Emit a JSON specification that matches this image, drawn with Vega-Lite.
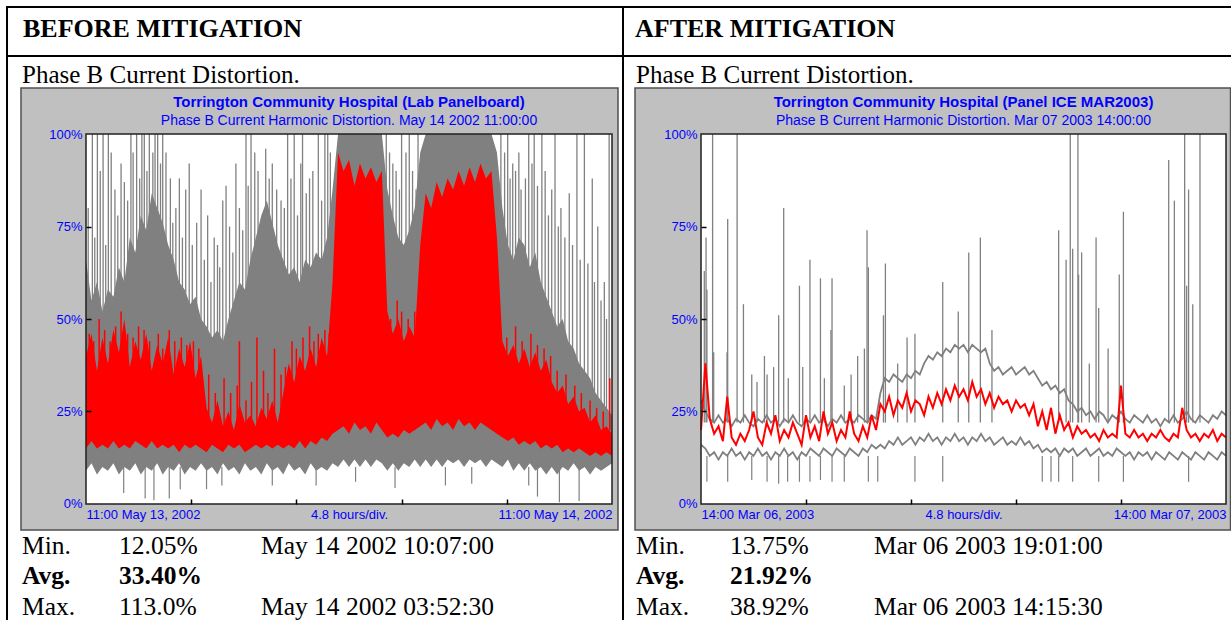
{
"$schema": "https://vega.github.io/schema/vega-lite/v6.json",
"background": "white",
"padding": {"left": 5, "top": 5, "right": 0, "bottom": 0},
"spacing": 0,
"bounds": "flush",
"config": {"view": {"stroke": null}, "axis": {"grid": false}},
"datasets": {
"leftBand": [
{"h":0,"ghi":66,"glo":9,"rlo":15,"rhi":40},{"h":0.25,"ghi":55,"glo":11,"rlo":17,"rhi":46},{"h":0.5,"ghi":60,"glo":8,"rlo":15,"rhi":36},{"h":0.75,"ghi":52,"glo":10,"rlo":16,"rhi":45},
{"h":1,"ghi":58,"glo":9,"rlo":15,"rhi":38},{"h":1.25,"ghi":56,"glo":11,"rlo":17,"rhi":47},{"h":1.5,"ghi":64,"glo":8,"rlo":15,"rhi":41},{"h":1.75,"ghi":60,"glo":10,"rlo":16,"rhi":50},
{"h":2,"ghi":72,"glo":9,"rlo":15,"rhi":37},{"h":2.25,"ghi":68,"glo":11,"rlo":17,"rhi":44},{"h":2.5,"ghi":78,"glo":8,"rlo":16,"rhi":39},{"h":2.75,"ghi":74,"glo":10,"rlo":15,"rhi":46},
{"h":3,"ghi":84,"glo":9,"rlo":17,"rhi":36},{"h":3.25,"ghi":80,"glo":11,"rlo":15,"rhi":43},{"h":3.5,"ghi":76,"glo":8,"rlo":16,"rhi":38},{"h":3.75,"ghi":70,"glo":10,"rlo":15,"rhi":45},
{"h":4,"ghi":66,"glo":9,"rlo":16,"rhi":35},{"h":4.25,"ghi":60,"glo":11,"rlo":14,"rhi":42},{"h":4.5,"ghi":58,"glo":8,"rlo":16,"rhi":37},{"h":4.75,"ghi":54,"glo":10,"rlo":15,"rhi":44},
{"h":5,"ghi":56,"glo":9,"rlo":16,"rhi":34},{"h":5.25,"ghi":50,"glo":11,"rlo":15,"rhi":40},{"h":5.5,"ghi":48,"glo":9,"rlo":14,"rhi":26},{"h":5.75,"ghi":45,"glo":10,"rlo":16,"rhi":22},
{"h":6,"ghi":47,"glo":8,"rlo":15,"rhi":28},{"h":6.25,"ghi":44,"glo":11,"rlo":14,"rhi":21},{"h":6.5,"ghi":50,"glo":9,"rlo":16,"rhi":25},{"h":6.75,"ghi":55,"glo":10,"rlo":15,"rhi":20},
{"h":7,"ghi":60,"glo":8,"rlo":16,"rhi":27},{"h":7.25,"ghi":58,"glo":11,"rlo":14,"rhi":22},{"h":7.5,"ghi":66,"glo":9,"rlo":15,"rhi":24},{"h":7.75,"ghi":72,"glo":10,"rlo":16,"rhi":21},
{"h":8,"ghi":78,"glo":8,"rlo":15,"rhi":26},{"h":8.25,"ghi":82,"glo":11,"rlo":16,"rhi":23},{"h":8.5,"ghi":76,"glo":9,"rlo":15,"rhi":28},{"h":8.75,"ghi":70,"glo":10,"rlo":16,"rhi":22},
{"h":9,"ghi":66,"glo":8,"rlo":15,"rhi":30},{"h":9.25,"ghi":62,"glo":11,"rlo":16,"rhi":38},{"h":9.5,"ghi":64,"glo":9,"rlo":15,"rhi":33},{"h":9.75,"ghi":60,"glo":10,"rlo":17,"rhi":40},
{"h":10,"ghi":66,"glo":8,"rlo":15,"rhi":36},{"h":10.25,"ghi":64,"glo":11,"rlo":17,"rhi":42},{"h":10.5,"ghi":68,"glo":9,"rlo":16,"rhi":37},{"h":10.75,"ghi":66,"glo":10,"rlo":18,"rhi":45},
{"h":11,"ghi":72,"glo":9,"rlo":17,"rhi":40},{"h":11.25,"ghi":85,"glo":11,"rlo":19,"rhi":60},{"h":11.5,"ghi":100,"glo":10,"rlo":20,"rhi":95},{"h":11.75,"ghi":100,"glo":12,"rlo":21,"rhi":90},
{"h":12,"ghi":100,"glo":10,"rlo":19,"rhi":93},{"h":12.25,"ghi":100,"glo":12,"rlo":22,"rhi":86},{"h":12.5,"ghi":100,"glo":10,"rlo":20,"rhi":92},{"h":12.75,"ghi":100,"glo":12,"rlo":21,"rhi":88},
{"h":13,"ghi":100,"glo":10,"rlo":19,"rhi":91},{"h":13.25,"ghi":100,"glo":12,"rlo":22,"rhi":87},{"h":13.5,"ghi":100,"glo":11,"rlo":20,"rhi":90},{"h":13.75,"ghi":85,"glo":9,"rlo":18,"rhi":52},
{"h":14,"ghi":78,"glo":11,"rlo":19,"rhi":46},{"h":14.25,"ghi":72,"glo":9,"rlo":18,"rhi":50},{"h":14.5,"ghi":70,"glo":11,"rlo":20,"rhi":44},{"h":14.75,"ghi":74,"glo":10,"rlo":19,"rhi":48},
{"h":15,"ghi":80,"glo":12,"rlo":20,"rhi":45},{"h":15.25,"ghi":95,"glo":10,"rlo":21,"rhi":70},{"h":15.5,"ghi":100,"glo":12,"rlo":22,"rhi":84},{"h":15.75,"ghi":100,"glo":10,"rlo":20,"rhi":80},
{"h":16,"ghi":100,"glo":12,"rlo":23,"rhi":87},{"h":16.25,"ghi":100,"glo":10,"rlo":21,"rhi":83},{"h":16.5,"ghi":100,"glo":12,"rlo":22,"rhi":88},{"h":16.75,"ghi":100,"glo":11,"rlo":20,"rhi":85},
{"h":17,"ghi":100,"glo":12,"rlo":23,"rhi":90},{"h":17.25,"ghi":100,"glo":10,"rlo":21,"rhi":86},{"h":17.5,"ghi":100,"glo":12,"rlo":22,"rhi":91},{"h":17.75,"ghi":100,"glo":11,"rlo":20,"rhi":87},
{"h":18,"ghi":100,"glo":12,"rlo":22,"rhi":92},{"h":18.25,"ghi":100,"glo":10,"rlo":21,"rhi":88},{"h":18.5,"ghi":100,"glo":12,"rlo":20,"rhi":90},{"h":18.75,"ghi":95,"glo":11,"rlo":19,"rhi":72},
{"h":19,"ghi":80,"glo":10,"rlo":18,"rhi":44},{"h":19.25,"ghi":70,"glo":12,"rlo":17,"rhi":40},{"h":19.5,"ghi":66,"glo":9,"rlo":18,"rhi":43},{"h":19.75,"ghi":72,"glo":11,"rlo":16,"rhi":38},
{"h":20,"ghi":70,"glo":9,"rlo":17,"rhi":42},{"h":20.25,"ghi":64,"glo":11,"rlo":16,"rhi":37},{"h":20.5,"ghi":68,"glo":9,"rlo":17,"rhi":41},{"h":20.75,"ghi":60,"glo":10,"rlo":15,"rhi":36},
{"h":21,"ghi":56,"glo":8,"rlo":16,"rhi":39},{"h":21.25,"ghi":52,"glo":10,"rlo":15,"rhi":33},{"h":21.5,"ghi":48,"glo":8,"rlo":16,"rhi":30},{"h":21.75,"ghi":50,"glo":10,"rlo":14,"rhi":32},
{"h":22,"ghi":44,"glo":9,"rlo":15,"rhi":27},{"h":22.25,"ghi":42,"glo":11,"rlo":14,"rhi":29},{"h":22.5,"ghi":38,"glo":9,"rlo":15,"rhi":25},{"h":22.75,"ghi":36,"glo":10,"rlo":14,"rhi":26},
{"h":23,"ghi":34,"glo":8,"rlo":13,"rhi":22},{"h":23.25,"ghi":30,"glo":10,"rlo":14,"rhi":24},{"h":23.5,"ghi":28,"glo":9,"rlo":13,"rhi":20},{"h":23.75,"ghi":26,"glo":10,"rlo":14,"rhi":21},
{"h":24,"ghi":24,"glo":11,"rlo":13,"rhi":19}
],
"leftSpikes": [
{"h":0.29,"v":100},{"h":0.52,"v":100},{"h":0.78,"v":100},{"h":1.02,"v":100},{"h":1.32,"v":85},{"h":1.75,"v":87},{"h":2.05,"v":100},{"h":2.31,"v":100},{"h":2.66,"v":100},{"h":2.89,"v":100},{"h":3.27,"v":100},{"h":3.5,"v":100},{"h":3.96,"v":76},{"h":4.26,"v":88},{"h":4.71,"v":92},{"h":5.25,"v":85},{"h":5.55,"v":78},{"h":6.0,"v":70},{"h":6.24,"v":82},{"h":6.39,"v":86},{"h":6.84,"v":92},{"h":7.3,"v":100},{"h":7.53,"v":100},{"h":8.06,"v":78},{"h":8.36,"v":88},{"h":8.9,"v":82},{"h":9.2,"v":100},{"h":9.5,"v":100},{"h":9.88,"v":100},{"h":10.2,"v":88},{"h":10.6,"v":100},{"h":10.9,"v":100},{"h":11.03,"v":100},{"h":13.7,"v":100},{"h":14.15,"v":90},{"h":14.4,"v":100},{"h":14.75,"v":100},{"h":15.06,"v":85},{"h":18.93,"v":100},{"h":19.24,"v":100},{"h":19.47,"v":92},{"h":19.85,"v":85},{"h":20.2,"v":100},{"h":20.45,"v":100},{"h":20.8,"v":100},{"h":21.4,"v":100},{"h":21.67,"v":80},{"h":22.05,"v":84},{"h":22.4,"v":100},{"h":22.74,"v":100},{"h":23.1,"v":88},{"h":23.35,"v":75},{"h":23.65,"v":60},{"h":23.87,"v":100},
{"h":0.1,"v":80},{"h":0.4,"v":72},{"h":0.65,"v":90},{"h":0.9,"v":70},{"h":1.15,"v":95},{"h":1.45,"v":78},{"h":1.6,"v":92},{"h":1.9,"v":82},{"h":2.15,"v":95},{"h":2.45,"v":88},{"h":2.55,"v":100},{"h":2.78,"v":90},{"h":3.05,"v":95},{"h":3.15,"v":100},{"h":3.4,"v":92},{"h":3.65,"v":95},{"h":3.85,"v":88},{"h":4.1,"v":80},{"h":4.4,"v":72},{"h":4.55,"v":85},{"h":4.85,"v":70},{"h":5.05,"v":76},{"h":5.4,"v":66},{"h":5.7,"v":60},{"h":5.85,"v":72},{"h":6.1,"v":64},{"h":6.55,"v":75},{"h":6.7,"v":68},{"h":7.0,"v":80},{"h":7.15,"v":74},{"h":7.4,"v":86},{"h":7.7,"v":95},{"h":7.85,"v":90},{"h":8.2,"v":96},{"h":8.5,"v":92},{"h":8.7,"v":85},{"h":9.05,"v":80},{"h":9.35,"v":88},{"h":9.65,"v":78},{"h":9.8,"v":92},{"h":10.05,"v":84},{"h":10.35,"v":90},{"h":10.75,"v":82},{"h":11.15,"v":95},
{"h":13.85,"v":95},{"h":14.0,"v":92},{"h":14.3,"v":85},{"h":14.6,"v":95},{"h":14.9,"v":90},{"h":15.15,"v":100},{"h":19.1,"v":95},{"h":19.35,"v":88},{"h":19.6,"v":90},{"h":19.75,"v":95},{"h":20.05,"v":88},{"h":20.35,"v":92},{"h":20.6,"v":86},{"h":20.95,"v":90},{"h":21.1,"v":78},{"h":21.25,"v":85},{"h":21.55,"v":75},{"h":21.85,"v":72},{"h":22.2,"v":70},{"h":22.55,"v":66},{"h":22.9,"v":65},{"h":23.2,"v":60},{"h":23.5,"v":55},{"h":23.75,"v":50}
],
"leftDips": [
{"h":1.72,"v":3},{"h":2.7,"v":1.5},{"h":3.1,"v":1},{"h":3.8,"v":1.5},{"h":4.3,"v":4},{"h":5.5,"v":4},{"h":6.2,"v":5},{"h":8.5,"v":5},{"h":10.5,"v":5},{"h":12.3,"v":6},{"h":14.1,"v":4.3},{"h":16.4,"v":5},{"h":17.6,"v":5.5},{"h":20.2,"v":5},{"h":20.6,"v":2},{"h":21.6,"v":0.5},{"h":22.5,"v":0.8}
],
"leftRedSpikes": [
{"h":0.6,"v":50},{"h":1.6,"v":52},{"h":2.4,"v":48},{"h":3.3,"v":46},{"h":7.0,"v":44},{"h":7.8,"v":45},{"h":8.6,"v":42},{"h":10.2,"v":48},{"h":14.2,"v":55},{"h":19.6,"v":48},{"h":20.3,"v":46},{"h":23.9,"v":34},
{"h":0.15,"v":46},{"h":0.35,"v":44},{"h":0.85,"v":47},{"h":1.1,"v":44},{"h":1.35,"v":48},{"h":1.9,"v":46},{"h":2.15,"v":45},{"h":2.65,"v":47},{"h":2.9,"v":44},{"h":3.5,"v":42},{"h":3.8,"v":47},{"h":4.05,"v":44},{"h":4.35,"v":45},{"h":4.6,"v":43},{"h":4.9,"v":44},{"h":5.15,"v":42},{"h":5.6,"v":35},{"h":5.9,"v":30},{"h":6.3,"v":34},{"h":6.6,"v":30},{"h":6.9,"v":32},{"h":7.3,"v":28},{"h":7.55,"v":33},{"h":8.1,"v":36},{"h":8.3,"v":30},{"h":8.9,"v":35},{"h":9.1,"v":37},{"h":9.4,"v":44},{"h":9.6,"v":42},{"h":9.9,"v":45},{"h":10.4,"v":44},{"h":10.6,"v":46},{"h":10.9,"v":47},{"h":11.1,"v":46},{"h":13.9,"v":50},{"h":14.4,"v":52},{"h":14.7,"v":50},{"h":15.0,"v":52},{"h":19.2,"v":45},{"h":19.9,"v":44},{"h":20.6,"v":43},{"h":20.9,"v":42},{"h":21.2,"v":40},{"h":21.5,"v":36},{"h":21.9,"v":35},{"h":22.3,"v":32},{"h":22.6,"v":30},{"h":23.0,"v":28},{"h":23.3,"v":26},{"h":23.6,"v":25}
],
"rightLines": [
{"h":0,"hi":28,"lo":16,"avg":20},{"h":0.2,"hi":25,"lo":15,"avg":38},{"h":0.4,"hi":23,"lo":13,"avg":23},{"h":0.6,"hi":22,"lo":14,"avg":19},{"h":0.8,"hi":24,"lo":12,"avg":21},
{"h":1,"hi":22,"lo":14,"avg":17},{"h":1.2,"hi":23,"lo":13,"avg":29},{"h":1.4,"hi":21,"lo":15,"avg":18},{"h":1.6,"hi":23,"lo":13,"avg":16},{"h":1.8,"hi":22,"lo":14,"avg":19},
{"h":2,"hi":24,"lo":12,"avg":17},{"h":2.2,"hi":22,"lo":14,"avg":20},{"h":2.4,"hi":21,"lo":13,"avg":25},{"h":2.6,"hi":23,"lo":15,"avg":18},{"h":2.8,"hi":22,"lo":13,"avg":16},
{"h":3,"hi":24,"lo":14,"avg":22},{"h":3.2,"hi":22,"lo":12,"avg":19},{"h":3.4,"hi":23,"lo":14,"avg":24},{"h":3.6,"hi":21,"lo":13,"avg":17},{"h":3.8,"hi":23,"lo":15,"avg":20},
{"h":4,"hi":22,"lo":13,"avg":18},{"h":4.2,"hi":24,"lo":14,"avg":22},{"h":4.4,"hi":22,"lo":12,"avg":19},{"h":4.6,"hi":21,"lo":14,"avg":16},{"h":4.8,"hi":23,"lo":13,"avg":24},
{"h":5,"hi":22,"lo":15,"avg":18},{"h":5.2,"hi":24,"lo":14,"avg":21},{"h":5.4,"hi":22,"lo":13,"avg":17},{"h":5.6,"hi":23,"lo":15,"avg":25},{"h":5.8,"hi":21,"lo":14,"avg":19},
{"h":6,"hi":23,"lo":13,"avg":22},{"h":6.2,"hi":22,"lo":15,"avg":17},{"h":6.4,"hi":24,"lo":14,"avg":20},{"h":6.6,"hi":22,"lo":13,"avg":18},{"h":6.8,"hi":23,"lo":15,"avg":25},
{"h":7,"hi":22,"lo":14,"avg":19},{"h":7.2,"hi":24,"lo":13,"avg":17},{"h":7.4,"hi":23,"lo":15,"avg":21},{"h":7.6,"hi":22,"lo":14,"avg":18},{"h":7.8,"hi":24,"lo":16,"avg":24},
{"h":8,"hi":23,"lo":15,"avg":20},{"h":8.2,"hi":30,"lo":16,"avg":27},{"h":8.4,"hi":34,"lo":15,"avg":25},{"h":8.6,"hi":33,"lo":17,"avg":29},{"h":8.8,"hi":35,"lo":16,"avg":24},
{"h":9,"hi":34,"lo":18,"avg":28},{"h":9.2,"hi":33,"lo":16,"avg":26},{"h":9.4,"hi":35,"lo":17,"avg":30},{"h":9.6,"hi":34,"lo":18,"avg":25},{"h":9.8,"hi":36,"lo":16,"avg":28},
{"h":10,"hi":35,"lo":18,"avg":27},{"h":10.2,"hi":38,"lo":17,"avg":24},{"h":10.4,"hi":40,"lo":19,"avg":29},{"h":10.6,"hi":39,"lo":17,"avg":26},{"h":10.8,"hi":41,"lo":18,"avg":30},
{"h":11,"hi":40,"lo":16,"avg":27},{"h":11.2,"hi":42,"lo":18,"avg":31},{"h":11.4,"hi":41,"lo":17,"avg":28},{"h":11.6,"hi":43,"lo":19,"avg":32},{"h":11.8,"hi":42,"lo":17,"avg":29},
{"h":12,"hi":43,"lo":18,"avg":31},{"h":12.2,"hi":41,"lo":16,"avg":28},{"h":12.4,"hi":43,"lo":18,"avg":33},{"h":12.6,"hi":42,"lo":17,"avg":29},{"h":12.8,"hi":41,"lo":19,"avg":31},
{"h":13,"hi":42,"lo":17,"avg":27},{"h":13.2,"hi":38,"lo":18,"avg":30},{"h":13.4,"hi":36,"lo":16,"avg":26},{"h":13.6,"hi":37,"lo":17,"avg":29},{"h":13.8,"hi":35,"lo":18,"avg":27},
{"h":14,"hi":36,"lo":16,"avg":28},{"h":14.2,"hi":37,"lo":17,"avg":25},{"h":14.4,"hi":35,"lo":16,"avg":28},{"h":14.6,"hi":36,"lo":18,"avg":26},{"h":14.8,"hi":37,"lo":16,"avg":27},
{"h":15,"hi":35,"lo":17,"avg":24},{"h":15.2,"hi":36,"lo":15,"avg":27},{"h":15.4,"hi":34,"lo":16,"avg":21},{"h":15.6,"hi":32,"lo":14,"avg":25},{"h":15.8,"hi":33,"lo":15,"avg":20},
{"h":16,"hi":31,"lo":14,"avg":26},{"h":16.2,"hi":32,"lo":15,"avg":19},{"h":16.4,"hi":30,"lo":13,"avg":24},{"h":16.6,"hi":31,"lo":15,"avg":20},{"h":16.8,"hi":28,"lo":14,"avg":22},
{"h":17,"hi":27,"lo":15,"avg":18},{"h":17.2,"hi":25,"lo":13,"avg":21},{"h":17.4,"hi":26,"lo":14,"avg":19},{"h":17.6,"hi":24,"lo":15,"avg":20},{"h":17.8,"hi":25,"lo":13,"avg":18},
{"h":18,"hi":23,"lo":14,"avg":19},{"h":18.2,"hi":25,"lo":15,"avg":17},{"h":18.4,"hi":24,"lo":13,"avg":20},{"h":18.6,"hi":22,"lo":14,"avg":18},{"h":18.8,"hi":24,"lo":13,"avg":19},
{"h":19,"hi":23,"lo":15,"avg":18},{"h":19.2,"hi":25,"lo":14,"avg":32},{"h":19.4,"hi":23,"lo":13,"avg":19},{"h":19.6,"hi":22,"lo":14,"avg":18},{"h":19.8,"hi":24,"lo":12,"avg":20},
{"h":20,"hi":23,"lo":14,"avg":18},{"h":20.2,"hi":22,"lo":13,"avg":19},{"h":20.4,"hi":24,"lo":14,"avg":17},{"h":20.6,"hi":22,"lo":12,"avg":19},{"h":20.8,"hi":23,"lo":14,"avg":18},
{"h":21,"hi":21,"lo":13,"avg":20},{"h":21.2,"hi":23,"lo":12,"avg":18},{"h":21.4,"hi":22,"lo":14,"avg":17},{"h":21.6,"hi":24,"lo":13,"avg":19},{"h":21.8,"hi":22,"lo":12,"avg":18},
{"h":22,"hi":23,"lo":14,"avg":26},{"h":22.2,"hi":25,"lo":13,"avg":20},{"h":22.4,"hi":23,"lo":12,"avg":18},{"h":22.6,"hi":22,"lo":14,"avg":19},{"h":22.8,"hi":24,"lo":13,"avg":17},
{"h":23,"hi":23,"lo":12,"avg":19},{"h":23.2,"hi":22,"lo":14,"avg":18},{"h":23.4,"hi":24,"lo":13,"avg":20},{"h":23.6,"hi":23,"lo":12,"avg":17},{"h":23.8,"hi":25,"lo":14,"avg":19},
{"h":24,"hi":24,"lo":13,"avg":18}
],
"rightSpikes": [
{"h":0.15,"v":63},{"h":0.23,"v":72},{"h":0.27,"v":58},{"h":0.53,"v":100},{"h":0.58,"v":41},{"h":1.19,"v":41},{"h":1.22,"v":77},{"h":1.65,"v":100},{"h":1.94,"v":54},{"h":2.32,"v":35},{"h":2.56,"v":33},{"h":2.9,"v":40},{"h":3.02,"v":35},{"h":3.32,"v":37},{"h":3.55,"v":51},{"h":3.78,"v":80},{"h":3.99,"v":34},{"h":4.5,"v":59},{"h":4.65,"v":37},{"h":4.98,"v":66},{"h":5.46,"v":61},{"h":5.64,"v":34},{"h":5.94,"v":47},{"h":5.99,"v":61},{"h":6.55,"v":32},{"h":6.86,"v":35},{"h":7.16,"v":40},{"h":7.47,"v":42},{"h":7.59,"v":74},{"h":7.65,"v":64},{"h":8.34,"v":51},{"h":8.43,"v":65},{"h":8.99,"v":38},{"h":9.42,"v":45},{"h":9.78,"v":46},{"h":11.05,"v":60},{"h":11.76,"v":52},{"h":12.24,"v":68},{"h":12.77,"v":72},{"h":13.3,"v":47},{"h":16.35,"v":74},{"h":16.69,"v":66},{"h":16.88,"v":100},{"h":16.99,"v":69},{"h":17.23,"v":100},{"h":17.26,"v":62},{"h":17.4,"v":68},{"h":17.75,"v":38},{"h":18.06,"v":72},{"h":18.18,"v":53},{"h":18.61,"v":42},{"h":19.12,"v":62},{"h":19.31,"v":79},{"h":21.38,"v":93},{"h":21.64,"v":82},{"h":22.11,"v":100},{"h":22.2,"v":59},{"h":22.29,"v":85},{"h":22.48,"v":54},{"h":22.81,"v":100}
],
"rightDips": [
{"h":0.27,"v":6},{"h":1.22,"v":6},{"h":2.32,"v":6.5},{"h":3.02,"v":6},{"h":3.55,"v":5.5},{"h":3.96,"v":6},{"h":4.5,"v":6},{"h":4.98,"v":6},{"h":5.46,"v":6.5},{"h":5.99,"v":6},{"h":6.55,"v":6},{"h":7.65,"v":6},{"h":8.08,"v":6},{"h":9.78,"v":6},{"h":11.05,"v":6},{"h":15.6,"v":6},{"h":16.0,"v":6},{"h":16.35,"v":6},{"h":16.99,"v":6},{"h":18.18,"v":6},{"h":19.31,"v":6},{"h":22.29,"v":6}
],
"leftStats": [
{"stat":"Min.","val":"12.05%","when":"May 14 2002 10:07:00","r":1},
{"stat":"Avg.","val":"33.40%","when":"","r":2},
{"stat":"Max.","val":"113.0%","when":"May 14 2002 03:52:30","r":3}
],
"rightStats": [
{"stat":"Min.","val":"13.75%","when":"Mar 06 2003 19:01:00","r":1},
{"stat":"Avg.","val":"21.92%","when":"","r":2},
{"stat":"Max.","val":"38.92%","when":"Mar 06 2003 14:15:30","r":3}
]
},
"hconcat": [
{
"width": 617, "height": 615,
"layer": [
{
"layer": [
{"data": {"values": [{}]}, "mark": {"type": "rect", "fill": "#c0c0c0", "stroke": "#505050", "strokeWidth": 1.5},
 "encoding": {"x": {"datum": -2.966, "type": "quantitative", "scale": {"domain": [-3.65, 24.502], "nice": false, "zero": false}, "axis": null}, "x2": {"datum": 24.274},
  "y": {"datum": -7.03, "type": "quantitative", "scale": {"domain": [-31.622, 134.595], "nice": false, "zero": false}, "axis": null}, "y2": {"datum": 112.43}}},
{"data": {"values": [{}]}, "mark": {"type": "rect", "fill": "white"},
 "encoding": {"x": {"datum": 0, "type": "quantitative", "scale": {"domain": [-3.65, 24.502], "nice": false, "zero": false},
   "axis": {"orient": "bottom", "offset": -117, "values": [0, 12, 24], "labelExpr": "datum.value == 0 ? '11:00 May 13, 2002' : (datum.value == 12 ? '4.8 hours/div.' : '11:00 May 14, 2002')", "labelAlign": {"condition": [{"test": "datum.value < 6", "value": "left"}, {"test": "datum.value > 18", "value": "right"}], "value": "center"}, "labelColor": "#0000ff", "labelFont": "Liberation Sans", "labelFontSize": 13, "labelPadding": 4, "labelOverlap": false, "ticks": false, "tickSize": 0, "domain": false, "grid": false, "title": null, "zindex": 1}},
  "x2": {"datum": 24},
  "y": {"datum": 0, "type": "quantitative", "scale": {"domain": [-31.622, 134.595], "nice": false, "zero": false},
   "axis": {"orient": "left", "offset": -80, "values": [0, 25, 50, 75, 100], "labelExpr": "datum.value + '%'", "labelColor": "#0000ff", "labelFont": "Liberation Sans", "labelFontSize": 13, "labelPadding": 4, "labelOverlap": false, "ticks": false, "tickSize": 0, "domain": false, "grid": false, "title": null, "zindex": 1}},
  "y2": {"datum": 100}}},
{"data": {"name": "leftBand"}, "mark": {"type": "area", "color": "#808080", "orient": "vertical"},
 "encoding": {"x": {"field": "h", "type": "quantitative", "scale": {"domain": [-3.65, 24.502], "nice": false, "zero": false}, "axis": null},
  "y": {"field": "glo", "type": "quantitative", "scale": {"domain": [-31.622, 134.595], "nice": false, "zero": false}, "axis": null}, "y2": {"field": "ghi"}}},
{"data": {"name": "leftSpikes"}, "mark": {"type": "rule", "color": "#808080", "strokeWidth": 1.3},
 "encoding": {"x": {"field": "h", "type": "quantitative", "scale": {"domain": [-3.65, 24.502], "nice": false, "zero": false}, "axis": null},
  "y": {"field": "v", "type": "quantitative", "scale": {"domain": [-31.622, 134.595], "nice": false, "zero": false}, "axis": null}, "y2": {"datum": 20}}},
{"data": {"name": "leftDips"}, "mark": {"type": "rule", "color": "#808080", "strokeWidth": 1.2},
 "encoding": {"x": {"field": "h", "type": "quantitative", "scale": {"domain": [-3.65, 24.502], "nice": false, "zero": false}, "axis": null},
  "y": {"field": "v", "type": "quantitative", "scale": {"domain": [-31.622, 134.595], "nice": false, "zero": false}, "axis": null}, "y2": {"datum": 10}}},
{"data": {"name": "leftBand"}, "mark": {"type": "area", "color": "#ff0000", "orient": "vertical"},
 "encoding": {"x": {"field": "h", "type": "quantitative", "scale": {"domain": [-3.65, 24.502], "nice": false, "zero": false}, "axis": null},
  "y": {"field": "rlo", "type": "quantitative", "scale": {"domain": [-31.622, 134.595], "nice": false, "zero": false}, "axis": null}, "y2": {"field": "rhi"}}},
{"data": {"name": "leftRedSpikes"}, "mark": {"type": "rule", "color": "#ff0000", "strokeWidth": 1.5},
 "encoding": {"x": {"field": "h", "type": "quantitative", "scale": {"domain": [-3.65, 24.502], "nice": false, "zero": false}, "axis": null},
  "y": {"field": "v", "type": "quantitative", "scale": {"domain": [-31.622, 134.595], "nice": false, "zero": false}, "axis": null}, "y2": {"datum": 20}}},
{"data": {"values": [{}]}, "mark": {"type": "rect", "fillOpacity": 0, "stroke": "#202020", "strokeWidth": 1.5},
 "encoding": {"x": {"datum": 0, "type": "quantitative", "scale": {"domain": [-3.65, 24.502], "nice": false, "zero": false},
   "axis": {"orient": "top", "offset": -498, "values": [4.8, 9.6, 14.4, 19.2], "labels": false, "domain": false, "ticks": true, "tickSize": 5, "tickColor": "#000000", "tickWidth": 1.5, "grid": false, "title": null, "zindex": 1}},
  "x2": {"datum": 24},
  "y": {"datum": 0, "type": "quantitative", "scale": {"domain": [-31.622, 134.595], "nice": false, "zero": false},
   "axis": {"orient": "right", "offset": -537, "values": [25, 50, 75], "labels": false, "domain": false, "ticks": true, "tickSize": 5, "tickColor": "#000000", "tickWidth": 1.5, "grid": false, "title": null, "zindex": 1}},
  "y2": {"datum": 100}}},
{"data": {"values": [{}]}, "mark": {"type": "text", "text": "Torrington Community Hospital (Lab Panelboard)", "font": "Liberation Sans", "fontWeight": "bold", "fontSize": 15, "color": "#0000ff", "align": "center", "baseline": "alphabetic"},
 "encoding": {"x": {"datum": 12, "type": "quantitative", "scale": {"domain": [-3.65, 24.502], "nice": false, "zero": false}, "axis": null},
  "y": {"datum": 107.3, "type": "quantitative", "scale": {"domain": [-31.622, 134.595], "nice": false, "zero": false}, "axis": null}}},
{"data": {"values": [{}]}, "mark": {"type": "text", "text": "Phase B Current Harmonic Distortion. May 14 2002 11:00:00", "font": "Liberation Sans", "fontSize": 14, "color": "#0000ff", "align": "center", "baseline": "alphabetic"},
 "encoding": {"x": {"datum": 12, "type": "quantitative", "scale": {"domain": [-3.65, 24.502], "nice": false, "zero": false}, "axis": null},
  "y": {"datum": 102.43, "type": "quantitative", "scale": {"domain": [-31.622, 134.595], "nice": false, "zero": false}, "axis": null}}},
{"data": {"values": [{}]}, "mark": {"type": "text", "text": "BEFORE MITIGATION", "font": "Liberation Serif", "fontWeight": "bold", "fontSize": 26, "color": "black", "align": "left", "baseline": "alphabetic"},
 "encoding": {"x": {"datum": -2.875, "type": "quantitative", "scale": {"domain": [-3.65, 24.502], "nice": false, "zero": false}, "axis": null},
  "y": {"datum": 126.22, "type": "quantitative", "scale": {"domain": [-31.622, 134.595], "nice": false, "zero": false}, "axis": null}}},
{"data": {"values": [{}]}, "mark": {"type": "text", "text": "Phase B Current Distortion.", "font": "Liberation Serif", "fontSize": 25, "color": "black", "align": "left", "baseline": "alphabetic"},
 "encoding": {"x": {"datum": -2.92, "type": "quantitative", "scale": {"domain": [-3.65, 24.502], "nice": false, "zero": false}, "axis": null},
  "y": {"datum": 113.78, "type": "quantitative", "scale": {"domain": [-31.622, 134.595], "nice": false, "zero": false}, "axis": null}}},
{"data": {"values": [{}]}, "mark": {"type": "rule", "color": "black", "strokeWidth": 2},
 "encoding": {"y": {"datum": 134.325, "type": "quantitative", "scale": {"domain": [-31.622, 134.595], "nice": false, "zero": false}, "axis": null}}},
{"data": {"values": [{}]}, "mark": {"type": "rule", "color": "black", "strokeWidth": 2},
 "encoding": {"y": {"datum": 121.08, "type": "quantitative", "scale": {"domain": [-31.622, 134.595], "nice": false, "zero": false}, "axis": null}}},
{"data": {"values": [{}]}, "mark": {"type": "rule", "color": "black", "strokeWidth": 2},
 "encoding": {"x": {"datum": -3.604, "type": "quantitative", "scale": {"domain": [-3.65, 24.502], "nice": false, "zero": false}, "axis": null}}},
{"data": {"values": [{}]}, "mark": {"type": "rule", "color": "black", "strokeWidth": 2},
 "encoding": {"x": {"datum": 24.502, "type": "quantitative", "scale": {"domain": [-3.65, 24.502], "nice": false, "zero": false}, "axis": null}}}
],
"resolve": {"axis": {"x": "independent", "y": "independent"}}
},
{
"data": {"name": "leftStats"},
"layer": [
{"mark": {"type": "text", "font": "Liberation Serif", "fontSize": 25.5, "color": "black", "align": "left", "baseline": "alphabetic", "fontWeight": {"expr": "datum.stat == 'Avg.' ? 'bold' : 'normal'"}},
 "encoding": {"x": {"datum": -2.92, "type": "quantitative", "scale": {"domain": [-3.65, 24.502], "nice": false, "zero": false}, "axis": null},
  "y": {"field": "r", "type": "quantitative", "scale": {"domain": [-16.967, 3.197], "reverse": true, "nice": false, "zero": false}, "axis": null}, "text": {"field": "stat"}}},
{"mark": {"type": "text", "font": "Liberation Serif", "fontSize": 25.5, "color": "black", "align": "left", "baseline": "alphabetic", "fontWeight": {"expr": "datum.stat == 'Avg.' ? 'bold' : 'normal'"}},
 "encoding": {"x": {"datum": 1.506, "type": "quantitative", "scale": {"domain": [-3.65, 24.502], "nice": false, "zero": false}, "axis": null},
  "y": {"field": "r", "type": "quantitative", "scale": {"domain": [-16.967, 3.197], "reverse": true, "nice": false, "zero": false}, "axis": null}, "text": {"field": "val"}}},
{"mark": {"type": "text", "font": "Liberation Serif", "fontSize": 25.5, "color": "black", "align": "left", "baseline": "alphabetic"},
 "encoding": {"x": {"datum": 7.985, "type": "quantitative", "scale": {"domain": [-3.65, 24.502], "nice": false, "zero": false}, "axis": null},
  "y": {"field": "r", "type": "quantitative", "scale": {"domain": [-16.967, 3.197], "reverse": true, "nice": false, "zero": false}, "axis": null}, "text": {"field": "when"}}}
]
}
],
"resolve": {"scale": {"y": "independent"}, "axis": {"x": "independent", "y": "independent"}}
},
{
"width": 609, "height": 615,
"layer": [
{
"layer": [
{"data": {"values": [{}]}, "mark": {"type": "rect", "fill": "#c0c0c0", "stroke": "#505050", "strokeWidth": 1.5},
 "encoding": {"x": {"datum": -3.017, "type": "quantitative", "scale": {"domain": [-3.566, 24.274], "nice": false, "zero": false}, "axis": null}, "x2": {"datum": 24.206},
  "y": {"datum": -7.03, "type": "quantitative", "scale": {"domain": [-31.622, 134.595], "nice": false, "zero": false}, "axis": null}, "y2": {"datum": 112.43}}},
{"data": {"values": [{}]}, "mark": {"type": "rect", "fill": "white"},
 "encoding": {"x": {"datum": 0, "type": "quantitative", "scale": {"domain": [-3.566, 24.274], "nice": false, "zero": false},
   "axis": {"orient": "bottom", "offset": -117, "values": [0, 12, 24], "labelExpr": "datum.value == 0 ? '14:00 Mar 06, 2003' : (datum.value == 12 ? '4.8 hours/div.' : '14:00 Mar 07, 2003')", "labelAlign": {"condition": [{"test": "datum.value < 6", "value": "left"}, {"test": "datum.value > 18", "value": "right"}], "value": "center"}, "labelColor": "#0000ff", "labelFont": "Liberation Sans", "labelFontSize": 13, "labelPadding": 4, "labelOverlap": false, "ticks": false, "tickSize": 0, "domain": false, "grid": false, "title": null, "zindex": 1}},
  "x2": {"datum": 24},
  "y": {"datum": 0, "type": "quantitative", "scale": {"domain": [-31.622, 134.595], "nice": false, "zero": false},
   "axis": {"orient": "left", "offset": -78, "values": [0, 25, 50, 75, 100], "labelExpr": "datum.value + '%'", "labelColor": "#0000ff", "labelFont": "Liberation Sans", "labelFontSize": 13, "labelPadding": 4, "labelOverlap": false, "ticks": false, "tickSize": 0, "domain": false, "grid": false, "title": null, "zindex": 1}},
  "y2": {"datum": 100}}},
{"data": {"name": "rightSpikes"}, "mark": {"type": "rule", "color": "#808080", "strokeWidth": 1.3},
 "encoding": {"x": {"field": "h", "type": "quantitative", "scale": {"domain": [-3.566, 24.274], "nice": false, "zero": false}, "axis": null},
  "y": {"field": "v", "type": "quantitative", "scale": {"domain": [-31.622, 134.595], "nice": false, "zero": false}, "axis": null}, "y2": {"datum": 22}}},
{"data": {"name": "rightDips"}, "mark": {"type": "rule", "color": "#808080", "strokeWidth": 1.2},
 "encoding": {"x": {"field": "h", "type": "quantitative", "scale": {"domain": [-3.566, 24.274], "nice": false, "zero": false}, "axis": null},
  "y": {"field": "v", "type": "quantitative", "scale": {"domain": [-31.622, 134.595], "nice": false, "zero": false}, "axis": null}, "y2": {"datum": 13}}},
{"data": {"name": "rightLines"}, "mark": {"type": "line", "color": "#808080", "strokeWidth": 1.8},
 "encoding": {"x": {"field": "h", "type": "quantitative", "scale": {"domain": [-3.566, 24.274], "nice": false, "zero": false}, "axis": null},
  "y": {"field": "hi", "type": "quantitative", "scale": {"domain": [-31.622, 134.595], "nice": false, "zero": false}, "axis": null}}},
{"data": {"name": "rightLines"}, "mark": {"type": "line", "color": "#808080", "strokeWidth": 1.8},
 "encoding": {"x": {"field": "h", "type": "quantitative", "scale": {"domain": [-3.566, 24.274], "nice": false, "zero": false}, "axis": null},
  "y": {"field": "lo", "type": "quantitative", "scale": {"domain": [-31.622, 134.595], "nice": false, "zero": false}, "axis": null}}},
{"data": {"name": "rightLines"}, "mark": {"type": "line", "color": "#ff0000", "strokeWidth": 2},
 "encoding": {"x": {"field": "h", "type": "quantitative", "scale": {"domain": [-3.566, 24.274], "nice": false, "zero": false}, "axis": null},
  "y": {"field": "avg", "type": "quantitative", "scale": {"domain": [-31.622, 134.595], "nice": false, "zero": false}, "axis": null}}},
{"data": {"values": [{}]}, "mark": {"type": "rect", "fillOpacity": 0, "stroke": "#202020", "strokeWidth": 1.5},
 "encoding": {"x": {"datum": 0, "type": "quantitative", "scale": {"domain": [-3.566, 24.274], "nice": false, "zero": false},
   "axis": {"orient": "top", "offset": -498, "values": [4.8, 9.6, 14.4, 19.2], "labels": false, "domain": false, "ticks": true, "tickSize": 5, "tickColor": "#000000", "tickWidth": 1.5, "grid": false, "title": null, "zindex": 1}},
  "x2": {"datum": 24},
  "y": {"datum": 0, "type": "quantitative", "scale": {"domain": [-31.622, 134.595], "nice": false, "zero": false},
   "axis": {"orient": "right", "offset": -531, "values": [25, 50, 75], "labels": false, "domain": false, "ticks": true, "tickSize": 5, "tickColor": "#000000", "tickWidth": 1.5, "grid": false, "title": null, "zindex": 1}},
  "y2": {"datum": 100}}},
{"data": {"values": [{}]}, "mark": {"type": "text", "text": "Torrington Community Hospital (Panel ICE MAR2003)", "font": "Liberation Sans", "fontWeight": "bold", "fontSize": 15, "color": "#0000ff", "align": "center", "baseline": "alphabetic"},
 "encoding": {"x": {"datum": 12, "type": "quantitative", "scale": {"domain": [-3.566, 24.274], "nice": false, "zero": false}, "axis": null},
  "y": {"datum": 107.3, "type": "quantitative", "scale": {"domain": [-31.622, 134.595], "nice": false, "zero": false}, "axis": null}}},
{"data": {"values": [{}]}, "mark": {"type": "text", "text": "Phase B Current Harmonic Distortion. Mar 07 2003 14:00:00", "font": "Liberation Sans", "fontSize": 14, "color": "#0000ff", "align": "center", "baseline": "alphabetic"},
 "encoding": {"x": {"datum": 12, "type": "quantitative", "scale": {"domain": [-3.566, 24.274], "nice": false, "zero": false}, "axis": null},
  "y": {"datum": 102.43, "type": "quantitative", "scale": {"domain": [-31.622, 134.595], "nice": false, "zero": false}, "axis": null}}},
{"data": {"values": [{}]}, "mark": {"type": "text", "text": "AFTER MITIGATION", "font": "Liberation Serif", "fontWeight": "bold", "fontSize": 26, "color": "black", "align": "left", "baseline": "alphabetic"},
 "encoding": {"x": {"datum": -3.017, "type": "quantitative", "scale": {"domain": [-3.566, 24.274], "nice": false, "zero": false}, "axis": null},
  "y": {"datum": 126.22, "type": "quantitative", "scale": {"domain": [-31.622, 134.595], "nice": false, "zero": false}, "axis": null}}},
{"data": {"values": [{}]}, "mark": {"type": "text", "text": "Phase B Current Distortion.", "font": "Liberation Serif", "fontSize": 25, "color": "black", "align": "left", "baseline": "alphabetic"},
 "encoding": {"x": {"datum": -2.971, "type": "quantitative", "scale": {"domain": [-3.566, 24.274], "nice": false, "zero": false}, "axis": null},
  "y": {"datum": 113.78, "type": "quantitative", "scale": {"domain": [-31.622, 134.595], "nice": false, "zero": false}, "axis": null}}},
{"data": {"values": [{}]}, "mark": {"type": "rule", "color": "black", "strokeWidth": 2},
 "encoding": {"y": {"datum": 134.325, "type": "quantitative", "scale": {"domain": [-31.622, 134.595], "nice": false, "zero": false}, "axis": null}}},
{"data": {"values": [{}]}, "mark": {"type": "rule", "color": "black", "strokeWidth": 2},
 "encoding": {"y": {"datum": 121.08, "type": "quantitative", "scale": {"domain": [-31.622, 134.595], "nice": false, "zero": false}, "axis": null}}}
],
"resolve": {"axis": {"x": "independent", "y": "independent"}}
},
{
"data": {"name": "rightStats"},
"layer": [
{"mark": {"type": "text", "font": "Liberation Serif", "fontSize": 25.5, "color": "black", "align": "left", "baseline": "alphabetic", "fontWeight": {"expr": "datum.stat == 'Avg.' ? 'bold' : 'normal'"}},
 "encoding": {"x": {"datum": -2.971, "type": "quantitative", "scale": {"domain": [-3.566, 24.274], "nice": false, "zero": false}, "axis": null},
  "y": {"field": "r", "type": "quantitative", "scale": {"domain": [-16.967, 3.197], "reverse": true, "nice": false, "zero": false}, "axis": null}, "text": {"field": "stat"}}},
{"mark": {"type": "text", "font": "Liberation Serif", "fontSize": 25.5, "color": "black", "align": "left", "baseline": "alphabetic", "fontWeight": {"expr": "datum.stat == 'Avg.' ? 'bold' : 'normal'"}},
 "encoding": {"x": {"datum": 1.326, "type": "quantitative", "scale": {"domain": [-3.566, 24.274], "nice": false, "zero": false}, "axis": null},
  "y": {"field": "r", "type": "quantitative", "scale": {"domain": [-16.967, 3.197], "reverse": true, "nice": false, "zero": false}, "axis": null}, "text": {"field": "val"}}},
{"mark": {"type": "text", "font": "Liberation Serif", "fontSize": 25.5, "color": "black", "align": "left", "baseline": "alphabetic"},
 "encoding": {"x": {"datum": 7.909, "type": "quantitative", "scale": {"domain": [-3.566, 24.274], "nice": false, "zero": false}, "axis": null},
  "y": {"field": "r", "type": "quantitative", "scale": {"domain": [-16.967, 3.197], "reverse": true, "nice": false, "zero": false}, "axis": null}, "text": {"field": "when"}}}
]
}
],
"resolve": {"scale": {"y": "independent"}, "axis": {"x": "independent", "y": "independent"}}
}
]
}
